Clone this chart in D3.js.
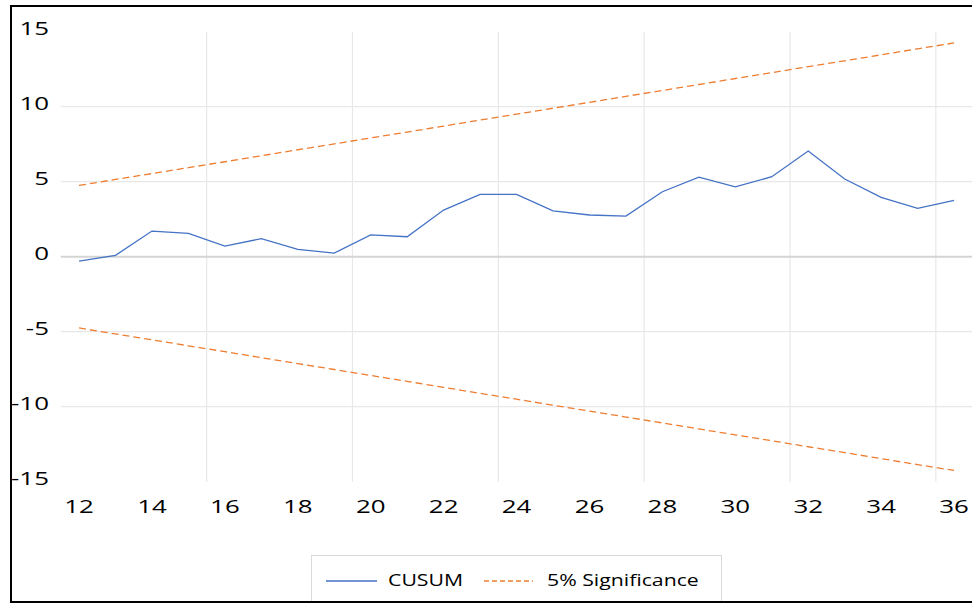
<!DOCTYPE html>
<html>
<head>
<meta charset="utf-8">
<script src="https://cdn.jsdelivr.net/npm/d3@7"></script>
<style>
	body { margin: 0; background: #fff; }
	svg { display: block; }
	text { font-family: "Open Sans", sans-serif; fill: #000; }
</style>
</head>
<body>
<div id="chart"></div>
<script>
// Chart data
const categories = [12, 13, 14, 15, 16, 17, 18, 19, 20, 21, 22, 23, 24, 25, 26, 27, 28, 29, 30, 31, 32, 33, 34, 35, 36];
const cusum = [-0.29, 0.09, 1.71, 1.56, 0.71, 1.2, 0.49, 0.24, 1.45, 1.33, 3.11, 4.16, 4.16, 3.05, 2.78, 2.71, 4.33, 5.3, 4.65, 5.33, 7.05, 5.18, 3.96, 3.22, 3.76];
const upper = [4.75, 5.15, 5.54, 5.94, 6.33, 6.73, 7.13, 7.52, 7.92, 8.31, 8.71, 9.11, 9.5, 9.9, 10.29, 10.69, 11.08, 11.48, 11.88, 12.27, 12.67, 13.06, 13.46, 13.86, 14.25];
const lower = [-4.75, -5.15, -5.54, -5.94, -6.33, -6.73, -7.13, -7.52, -7.92, -8.31, -8.71, -9.11, -9.5, -9.9, -10.29, -10.69, -11.08, -11.48, -11.88, -12.27, -12.67, -13.06, -13.46, -13.86, -14.25];
const yTicks = [-15, -10, -5, 0, 5, 10, 15];
const yGrid = [-10, -5, 5, 10];
const xTickLabels = [12, 14, 16, 18, 20, 22, 24, 26, 28, 30, 32, 34, 36];
const xGridCats = [16, 20, 24, 28, 32, 36];
const seriesNames = ["CUSUM", "5% Significance"];

const width = 972, height = 603;
const plot = { left: 60.8, right: 972.3, top: 31.7, bottom: 481.7 };

const svg = d3.select("#chart").append("svg")
	.attr("width", width)
	.attr("height", height);

const x = d3.scaleBand()
	.domain(categories)
	.range([plot.left, plot.right])
	.padding(0);
const cx = d => x(d) + x.bandwidth() / 2;

const y = d3.scaleLinear()
	.domain([-15, 15])
	.range([plot.bottom, plot.top]);

// Outer frame (right side falls off the picture)
svg.append("rect")
	.attr("x", 11).attr("y", 6)
	.attr("width", 975).attr("height", 596)
	.attr("fill", "none")
	.attr("stroke", "#000")
	.attr("stroke-width", 2);

// Gridlines
svg.append("g")
	.selectAll("line")
	.data(yGrid)
	.join("line")
	.attr("x1", plot.left).attr("x2", plot.right)
	.attr("y1", d => y(d)).attr("y2", d => y(d))
	.attr("stroke", "#e8e8e8")
	.attr("stroke-width", 1.2);

svg.append("g")
	.selectAll("line")
	.data(xGridCats)
	.join("line")
	.attr("x1", d => x(d)).attr("x2", d => x(d))
	.attr("y1", plot.top).attr("y2", plot.bottom)
	.attr("stroke", "#e8e8e8")
	.attr("stroke-width", 1.2);

// Zero axis line
svg.append("line")
	.attr("x1", plot.left).attr("x2", plot.right)
	.attr("y1", y(0)).attr("y2", y(0))
	.attr("stroke", "#d4d4d4")
	.attr("stroke-width", 2);

// Y labels
svg.append("g")
	.selectAll("g")
	.data(yTicks)
	.join("g")
	.attr("transform", d => `translate(49, ${y(d) + 3.6})`)
	.append("text")
	.attr("text-anchor", "end")
	.attr("transform", "scale(1.4,1)")
	.style("font-size", "18.5px")
	.text(d => d);

// X labels
svg.append("g")
	.selectAll("g")
	.data(xTickLabels)
	.join("g")
	.attr("transform", d => `translate(${cx(d)}, 513)`)
	.append("text")
	.attr("text-anchor", "middle")
	.attr("transform", "scale(1.4,1)")
	.style("font-size", "18.5px")
	.text(d => d);

// Lines
const line = values => d3.line()
	.x((d, i) => cx(categories[i]))
	.y(d => y(d))(values);

[upper, lower].forEach(vals => {
	svg.append("path")
		.attr("d", line(vals))
		.attr("fill", "none")
		.attr("stroke", "#ED7D31")
		.attr("stroke-width", 1.3)
		.attr("stroke-dasharray", "7,4");
});

svg.append("path")
	.attr("d", line(cusum))
	.attr("fill", "none")
	.attr("stroke", "#4472C4")
	.attr("stroke-width", 1.3);

// Legend
const legend = svg.append("g");
legend.append("rect")
	.attr("x", 311.5).attr("y", 555.5)
	.attr("width", 410).attr("height", 60)
	.attr("fill", "#fff")
	.attr("stroke", "#d9d9d9");

const legendItems = [
	{ name: seriesNames[0], color: "#4472C4", dash: null, x1: 326, x2: 377, tx: 388 },
	{ name: seriesNames[1], color: "#ED7D31", dash: "5,3", x1: 484, x2: 533, tx: 547 }
];
legendItems.forEach(item => {
	legend.append("line")
		.attr("x1", item.x1).attr("x2", item.x2)
		.attr("y1", 581).attr("y2", 581)
		.attr("stroke", item.color)
		.attr("stroke-width", 1.3)
		.attr("stroke-dasharray", item.dash);
	legend.append("g")
		.attr("transform", `translate(${item.tx}, 586)`)
		.append("text")
		.attr("transform", "scale(1.25,1)")
		.style("font-size", "17px")
		.text(item.name);
});

// Redraw frame bottom over legend
svg.append("line")
	.attr("x1", 10).attr("x2", 972)
	.attr("y1", 602).attr("y2", 602)
	.attr("stroke", "#000")
	.attr("stroke-width", 2);
</script>
</body>
</html>
